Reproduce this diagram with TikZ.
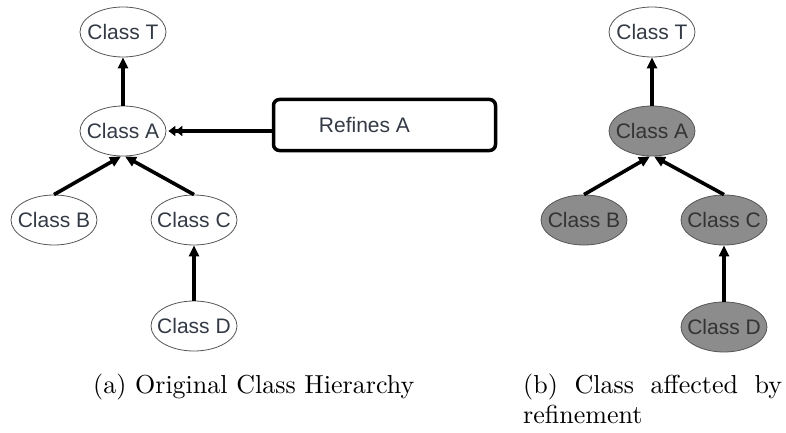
\documentclass[tikz,border=0pt]{standalone}
\usepackage{fontspec}
\setsansfont{Liberation Sans}
\newfontfamily\capfont{lmroman10-regular.otf}
\usetikzlibrary{arrows.meta,shapes.geometric}
\definecolor{txt}{HTML}{333A45}
\definecolor{txtb}{HTML}{333333}
\definecolor{fillgray}{HTML}{8C8C8C}
\definecolor{edge}{HTML}{555555}
\newcommand\zw[1]{\makebox[0pt]{#1}}
\begin{document}
\begin{tikzpicture}[x=1pt,y=-1pt,
  cls/.style={ellipse, draw=edge, line width=0.8pt, minimum width=86pt, minimum height=50pt, inner sep=0pt,
    font=\sffamily\fontsize{21}{24}\selectfont, text=txt},
  affected/.style={cls, fill=fillgray, text=txtb},
  inh/.style={line width=3.6pt, -{Triangle[length=11pt,width=10pt]}},
  caption/.style={font=\capfont\fontsize{26}{30}\selectfont, inner sep=0pt}]
\useasboundingbox (0,0) rectangle (786,433);
% left panel
\node[cls] (T) at (123,32) {\zw{Class T}};
\node[cls] (A) at (123,131) {\zw{Class A}};
\node[cls] (B) at (54,220) {\zw{Class B}};
\node[cls] (C) at (194,220) {\zw{Class C}};
\node[cls] (D) at (194,326) {\zw{Class D}};
\node[draw, line width=3.5pt, rounded corners=6pt, minimum width=222pt, minimum height=51pt, inner sep=0pt,
  font=\sffamily\fontsize{21}{24}\selectfont, text=txt] (R) at (384.5,125) {\hspace*{45pt}Refines A\hspace*{85pt}};
\draw[inh] (A.north) -- (T.south);
\draw[inh] (B.north) -- ([xshift=-2pt]A.south);
\draw[inh] (C.north) -- ([xshift=2pt]A.south);
\draw[inh] (D.north) -- (C.south);
\draw[line width=3.6pt, -{Triangle[length=7pt,width=10pt]Triangle[length=7pt,width=10pt]}] (R.west |- A.east) -- ([xshift=2pt]A.east);
% right panel
\node[cls] (T2) at (652,32) {\zw{Class T}};
\node[affected] (A2) at (652,131) {\zw{Class A}};
\node[affected] (B2) at (584,220) {\zw{Class B}};
\node[affected] (C2) at (724,220) {\zw{Class C}};
\node[affected] (D2) at (724,327) {\zw{Class D}};
\draw[inh] (A2.north) -- (T2.south);
\draw[inh] (B2.north) -- ([xshift=-2pt]A2.south);
\draw[inh] (C2.north) -- ([xshift=2pt]A2.south);
\draw[inh] (D2.north) -- (C2.south);
% captions
\node[caption, anchor=base west] (capa) at (93,393) {(a) Original Class Hierarchy};
\node[caption, anchor=base west, align=left] (capb) at (523,423) {\makebox[259pt][s]{(b) Class affected by}\\refinement};
\end{tikzpicture}
\end{document}
